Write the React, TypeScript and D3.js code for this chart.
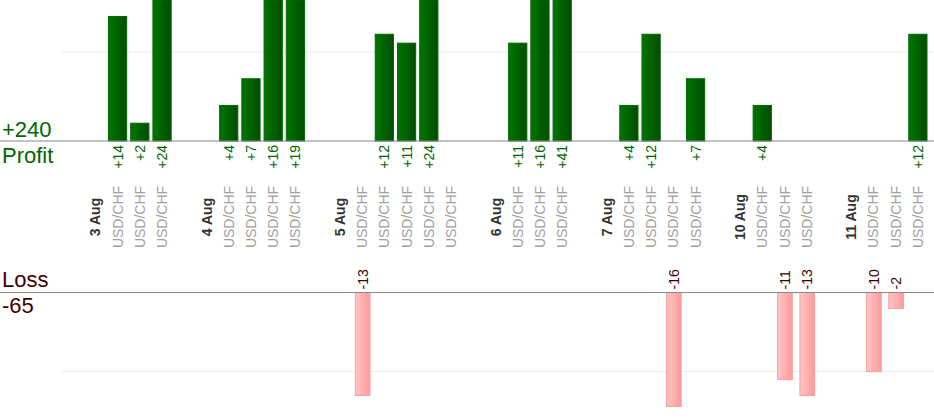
import * as d3 from 'd3';

// trades per trading day, profit (+) / loss (-)
const days = ['3 Aug', '4 Aug', '5 Aug', '6 Aug', '7 Aug', '10 Aug', '11 Aug'];
const pair = 'USD/CHF';
const results = [
    [14, 2, 24],
    [4, 7, 16, 19],
    [-13, 12, 11, 24, 0],
    [11, 16, 41],
    [4, 12, -16, 7],
    [4, -11, -13],
    [-10, -2, 12],
];
const gridTicks = [10];

const W = 934;
const H = 420;
const font = '"Liberation Sans", Arial, sans-serif';
const green = '#006600';
const maroon = '#3d0000';

type Slot = { id: string, kind: 'gap' | 'day' | 'trade', label: string, value: number };

const slots: Slot[] = [];
days.forEach((day, i) => {
    slots.push({ id: `gap${i}`, kind: 'gap', label: '', value: 0 });
    slots.push({ id: `day${i}`, kind: 'day', label: day, value: 0 });
    results[i].forEach((v, j) => {
        slots.push({ id: `t${i}_${j}`, kind: 'trade', label: pair, value: v });
    });
});

const trades = slots.filter(s => s.kind === 'trade');
const totalProfit = d3.sum(trades, s => Math.max(0, s.value));
const totalLoss = d3.sum(trades, s => Math.min(0, s.value));

export default function App() {
    const x = d3.scaleBand<string>()
        .domain(slots.map(s => s.id))
        .range([62, 929])
        .padding(0);
    const bw = x.bandwidth();
    const barW = bw * 0.82;
    const lossW = bw * 0.66;
    const cx = (id: string) => (x(id) as number) + bw / 2;

    const profitBase = 141;
    const lossBase = 292.5;
    const yP = d3.scaleLinear().domain([0, 15.85]).range([profitBase, 0]).clamp(true);
    const yL = d3.scaleLinear().domain([0, 14.4]).range([lossBase, 406.5]).clamp(true);

    const labelMid = 217;

    return (
        <svg width={W} height={H} style={{ position: 'fixed', left: 0, top: 0 }} fontFamily={font}>
            <defs>
                <linearGradient id="gProfit" x1="0" x2="1" y1="0" y2="0">
                    <stop offset="0%" stopColor="#007600" />
                    <stop offset="100%" stopColor="#004c00" />
                </linearGradient>
                <linearGradient id="gLoss" x1="0" x2="1" y1="0" y2="0">
                    <stop offset="0%" stopColor="#ffc6c6" />
                    <stop offset="100%" stopColor="#ff9a9a" />
                </linearGradient>
            </defs>
            <rect width={W} height={H} fill="#fff" />

            {/* grid */}
            {gridTicks.map(t => (
                <g key={t}>
                    <line x1={62} x2={W} y1={yP(t)} y2={yP(t)} stroke="#ebebeb" />
                    <line x1={62} x2={W} y1={yL(t)} y2={yL(t)} stroke="#ebebeb" />
                </g>
            ))}

            {/* profit bars */}
            {trades.filter(s => s.value > 0).map(s => (
                <g key={s.id}>
                    <rect x={cx(s.id) - barW / 2} y={yP(s.value)} width={barW}
                        height={profitBase - yP(s.value)}
                        fill="url(#gProfit)" stroke="#006a00" strokeWidth={1} />
                    <text transform={`translate(${cx(s.id) + 5},${profitBase + 4}) rotate(-90)`}
                        textAnchor="end" fontSize={14} fill={green}>{`+${s.value}`}</text>
                </g>
            ))}

            {/* loss bars */}
            {trades.filter(s => s.value < 0).map(s => (
                <g key={s.id}>
                    <rect x={cx(s.id) - lossW / 2 + 0.5} y={lossBase} width={lossW}
                        height={yL(-s.value) - lossBase}
                        fill="url(#gLoss)" stroke="#ff9c9c" strokeWidth={1} />
                    <text transform={`translate(${cx(s.id) + 5.5},${lossBase - 3}) rotate(-90)`}
                        textAnchor="start" fontSize={14} fill={maroon}>{`${s.value}`}</text>
                </g>
            ))}

            {/* baselines */}
            <line x1={0} x2={W} y1={profitBase} y2={profitBase} stroke="#888" strokeWidth={1.2} />
            <line x1={0} x2={W} y1={lossBase} y2={lossBase} stroke="#888" strokeWidth={1.2} />

            {/* category labels */}
            {slots.filter(s => s.kind !== 'gap').map(s => (
                <text key={s.id} transform={`translate(${cx(s.id) + 5},${labelMid}) rotate(-90)`}
                    textAnchor="middle" fontSize={14}
                    fontWeight={s.kind === 'day' ? 'bold' : 'normal'}
                    fill={s.kind === 'day' ? '#333' : '#a0a0a0'}>{s.label}</text>
            ))}

            {/* totals */}
            <text x={2} y={137} fontSize={22} fill={green}>{`+${totalProfit}`}</text>
            <text x={2} y={163} fontSize={22} fill={green}>Profit</text>
            <text x={2} y={287} fontSize={22} fill={maroon}>Loss</text>
            <text x={2} y={313} fontSize={22} fill={maroon}>{`${totalLoss}`}</text>
        </svg>
    );
}
